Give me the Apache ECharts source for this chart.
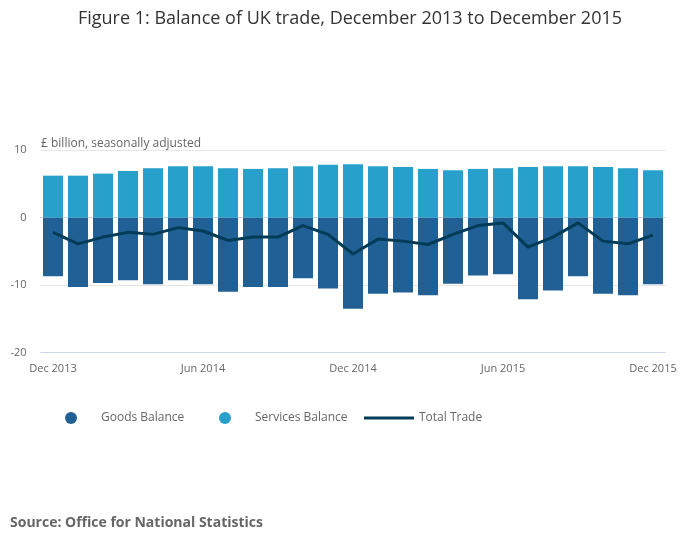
<!DOCTYPE html>
<html lang="en">
<head>
    <meta charset="UTF-8">
    <title>Balance of UK trade</title>
    <script src="https://cdn.jsdelivr.net/npm/echarts@6/dist/echarts.min.js"></script>
    <style>
        html, body { margin: 0; padding: 0; background: #fff; }
        #chart { width: 700px; height: 549px; }
    </style>
</head>
<body>
<div id="chart"></div>
<script type="text/javascript">
    // 月份
    var months = ['Dec 2013', 'Jan 2014', 'Feb 2014', 'Mar 2014', 'Apr 2014', 'May 2014', 'Jun 2014',
        'Jul 2014', 'Aug 2014', 'Sep 2014', 'Oct 2014', 'Nov 2014', 'Dec 2014',
        'Jan 2015', 'Feb 2015', 'Mar 2015', 'Apr 2015', 'May 2015', 'Jun 2015',
        'Jul 2015', 'Aug 2015', 'Sep 2015', 'Oct 2015', 'Nov 2015', 'Dec 2015'];
    var goodsBalance = [-8.7, -10.3, -9.7, -9.3, -9.9, -9.3, -9.9, -11.0, -10.3, -10.3, -9.0, -10.5, -13.5,
        -11.3, -11.1, -11.5, -9.8, -8.6, -8.4, -12.1, -10.8, -8.7, -11.3, -11.5, -9.9];
    var servicesBalance = [6.2, 6.2, 6.5, 6.9, 7.3, 7.6, 7.6, 7.3, 7.2, 7.3, 7.6, 7.8, 7.9,
        7.6, 7.5, 7.2, 7.0, 7.2, 7.3, 7.5, 7.6, 7.6, 7.5, 7.3, 7.0];
    var totalTrade = [-2.2, -3.9, -2.9, -2.2, -2.5, -1.5, -2.0, -3.4, -2.9, -2.9, -1.2, -2.5, -5.4,
        -3.2, -3.5, -4.0, -2.5, -1.2, -0.8, -4.4, -2.9, -0.8, -3.5, -3.9, -2.6];
    var yTicks = [-20, -10, 0, 10];

    // 图例，每项单独定位
    function legendItem(left, name, icon) {
        return {
            left: left,
            top: 407,
            itemWidth: 50,
            itemHeight: 12,
            textStyle: { fontSize: 12, color: '#666666' },
            data: [{ name: name, icon: icon }]
        };
    }

    var chart = echarts.init(document.getElementById('chart'));
    var option = {
        textStyle: { fontFamily: 'Open Sans' },
        animation: false,
        title: [
            {
                text: 'Figure 1: Balance of UK trade, December 2013 to December 2015',
                left: 'center',
                top: 5,
                textStyle: { fontSize: 18, fontWeight: 'normal', color: '#333333' }
            },
            {
                text: '£ billion, seasonally adjusted',
                left: 36,
                top: 133,
                textStyle: { fontSize: 12, fontWeight: 'normal', color: '#666666' }
            },
            {
                text: 'Source: Office for National Statistics',
                left: 5,
                top: 511,
                textStyle: { fontSize: 14, fontWeight: 'bold', color: '#666666' }
            }
        ],
        legend: [
            legendItem(60, 'Goods Balance', 'circle'),
            legendItem(214, 'Services Balance', 'circle'),
            legendItem(359, 'Total Trade', 'path://M0,0L50,0L50,3L0,3Z')
        ],
        grid: {
            left: 40.5,
            right: 34.5,
            top: 150,
            bottom: 196.5,
            containLabel: false
        },
        xAxis: {
            type: 'category',
            data: months,
            boundaryGap: true,
            axisLine: { show: true, lineStyle: { color: '#ccd6eb' } },
            axisTick: {
                show: true,
                interval: 5,
                alignWithLabel: true,
                length: 10,
                lineStyle: { color: '#ccd6eb' }
            },
            axisLabel: {
                interval: 5,
                fontSize: 11,
                color: '#666666',
                margin: 11
            }
        },
        yAxis: {
            type: 'value',
            min: yTicks[0],
            max: yTicks[yTicks.length - 1],
            interval: 10,
            axisLine: { show: false },
            axisTick: { show: false },
            axisLabel: { fontSize: 11, color: '#666666', margin: 14 },
            splitLine: {
                lineStyle: {
                    color: ['#ccd6eb', '#e6e6e6', '#e6e6e6', '#e6e6e6']
                }
            }
        },
        series: [
            {
                name: 'Goods Balance',
                type: 'bar',
                stack: 'balance',
                barWidth: 20,
                itemStyle: { color: '#206095' },
                data: goodsBalance
            },
            {
                name: 'Services Balance',
                type: 'bar',
                stack: 'balance',
                barWidth: 20,
                itemStyle: { color: '#27a0cc' },
                data: servicesBalance
            },
            {
                name: 'Total Trade',
                type: 'line',
                symbol: 'none',
                lineStyle: { color: '#003c57', width: 3 },
                itemStyle: { color: '#003c57' },
                z: 5,
                data: totalTrade
            }
        ]
    };
    chart.setOption(option);
</script>
</body>
</html>
